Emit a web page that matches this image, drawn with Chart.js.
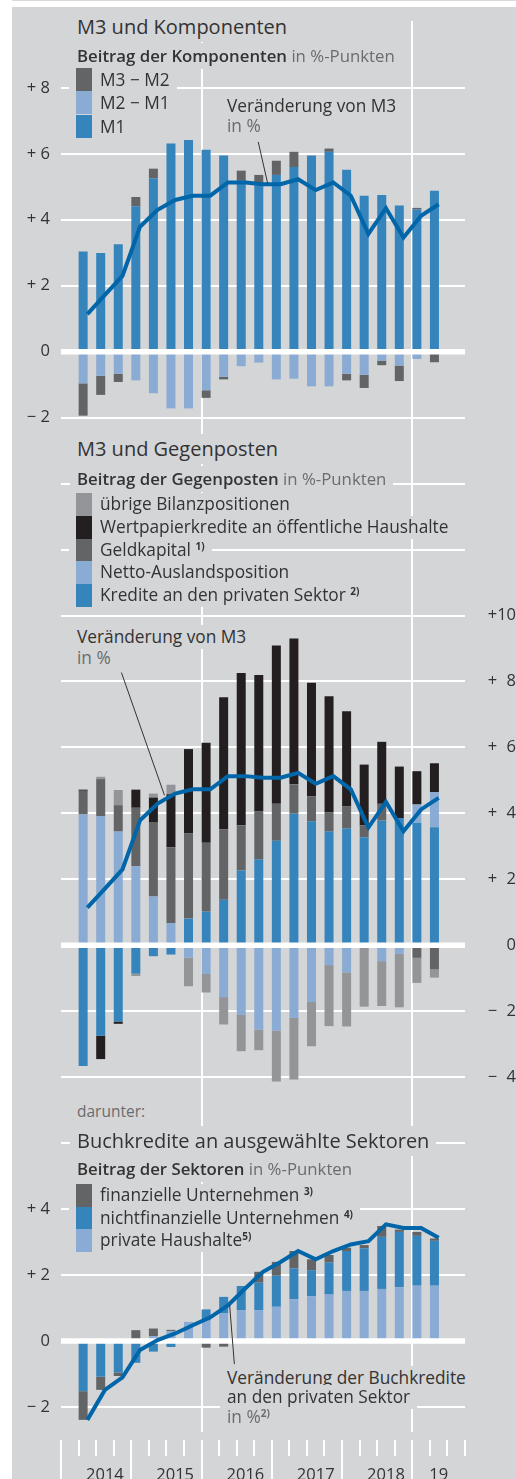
<!DOCTYPE html>
<html lang="de">
<head>
<meta charset="utf-8">
<title>M3 und Komponenten</title>
<script src="https://cdn.jsdelivr.net/npm/chart.js@4.4.1/dist/chart.umd.min.js"></script>
<style>
  html, body { margin: 0; padding: 0; background: #fff; }
  #page { position: relative; width: 516px; height: 1479px; overflow: hidden; font-family: 'Open Sans', sans-serif; color: #333; }
  #panel { position: absolute; left: 12px; top: 7px; width: 504px; height: 1472px; background: #d4d5d7; }
  #rule { position: absolute; left: 12px; top: 0; width: 504px; height: 1px; background: #d9dadc; }
  #chart { position: absolute; left: 0; top: 0; }
  /* text sits on a knock-out box in the panel colour, like the print original */
  .t { position: absolute; white-space: nowrap; background: #d4d5d7; padding: 2px 7px; margin: -2px 0 0 -7px; font-size: 17.3px; line-height: 20px; }
  .title { font-size: 20px; line-height: 26px; }
  .sub { font-size: 16.8px; line-height: 22px; }
  .sub b { font-weight: 600; }
  .small { font-size: 15.5px; }
  .g { color: #6b6c6e; }
  .leg { position: absolute; left: 69px; white-space: nowrap; background: #d4d5d7; padding: 0 7px 0 31px; font-size: 17.3px; }
  .leg i { position: absolute; left: 7px; top: 0; width: 16px; height: 100%; }
  sup { font-size: 10px; font-weight: 700; line-height: 0; vertical-align: 6px; }
</style>
</head>
<body>
<div id="page">
  <div id="rule"></div>
  <div id="panel"></div>
  <canvas id="chart" width="516" height="1479"></canvas>

  <!-- M3 und Komponenten -->
  <div class="t title" style="left:77px;top:13.5px">M3 und Komponenten</div>
  <div class="t sub" style="left:77px;top:45px"><b>Beitrag der Komponenten</b> <span class="g">in %-Punkten</span></div>
  <div class="leg" style="top:68.3px;height:23.1px;line-height:23.1px"><i style="background:#636466"></i>M3 − M2</div>
  <div class="leg" style="top:91.4px;height:23.1px;line-height:23.1px"><i style="background:#8aabd3"></i>M2 − M1</div>
  <div class="leg" style="top:114.5px;height:23.1px;line-height:23.1px"><i style="background:#3584bc"></i>M1</div>
  <div class="t" style="left:227px;top:96px">Veränderung von M3</div>
  <div class="t g" style="left:227px;top:116px">in %</div>

  <!-- M3 und Gegenposten -->
  <div class="t title" style="left:77px;top:436px">M3 und Gegenposten</div>
  <div class="t sub" style="left:77px;top:467.6px"><b>Beitrag der Gegenposten</b> <span class="g">in %-Punkten</span></div>
  <div class="leg" style="top:493.3px;height:22.7px;line-height:22.7px"><i style="background:#939598"></i>übrige Bilanzpositionen</div>
  <div class="leg" style="top:516px;height:22.7px;line-height:22.7px"><i style="background:#231f20"></i>Wertpapierkredite an öffentliche Haushalte</div>
  <div class="leg" style="top:538.7px;height:22.7px;line-height:22.7px"><i style="background:#636466"></i>Geldkapital <sup>1)</sup></div>
  <div class="leg" style="top:561.3px;height:22.7px;line-height:22.7px"><i style="background:#8aabd3"></i>Netto-Auslandsposition</div>
  <div class="leg" style="top:584px;height:22.7px;line-height:22.7px"><i style="background:#3584bc"></i>Kredite an den privaten Sektor <sup>2)</sup></div>
  <div class="t" style="left:77px;top:627.3px">Veränderung von M3</div>
  <div class="t g" style="left:77px;top:648.3px">in %</div>

  <!-- Buchkredite -->
  <div class="t small g" style="left:77px;top:1101.3px">darunter:</div>
  <div class="t title" style="left:77px;top:1127.5px">Buchkredite an ausgewählte Sektoren</div>
  <div class="t sub" style="left:77px;top:1158.3px"><b>Beitrag der Sektoren</b> <span class="g">in %-Punkten</span></div>
  <div class="leg" style="top:1184px;height:22.6px;line-height:22.6px"><i style="background:#636466"></i>finanzielle Unternehmen <sup>3)</sup></div>
  <div class="leg" style="top:1206.6px;height:22.6px;line-height:22.6px"><i style="background:#3584bc"></i>nichtfinanzielle Unternehmen <sup>4)</sup></div>
  <div class="leg" style="top:1229.2px;height:22.6px;line-height:22.6px"><i style="background:#8aabd3"></i>private Haushalte<sup>5)</sup></div>
  <div class="t" style="left:227px;top:1367.6px">Veränderung der Buchkredite</div>
  <div class="t" style="left:227px;top:1386.6px">an den privaten Sektor</div>
  <div class="t g" style="left:227px;top:1406.6px">in %<sup>2)</sup></div>
</div>

<script>
// quarters 2014 Q1 .. 2019 Q1 (21 values each)
const years = ['2014', '2015', '2016', '2017', '2018', '19'];

// M3 und Komponenten, Beitrag in %-Punkten
const m1   = [3.04, 2.99, 3.26, 4.41, 5.26, 6.31, 6.42, 6.12, 5.95, 5.18, 5.10, 5.36, 5.60, 5.95, 6.06, 5.52, 4.73, 4.75, 4.43, 4.31, 4.88];
const m2m1 = [-0.96, -0.73, -0.67, -0.87, -1.26, -1.72, -1.72, -1.17, -0.76, -0.44, -0.33, -0.84, -0.82, -1.05, -1.05, -0.67, -0.70, -0.27, -0.42, -0.22, 0];
const m3m2 = [-0.98, -0.58, -0.25, 0.28, 0.29, 0, 0, -0.23, -0.08, 0.31, 0.26, 0.43, 0.46, 0, 0.10, -0.20, -0.40, -0.14, -0.47, 0.05, -0.32];
// Veränderung von M3 in %
const m3Growth = [1.14, 1.72, 2.30, 3.79, 4.30, 4.60, 4.73, 4.73, 5.13, 5.13, 5.08, 5.08, 5.23, 4.90, 5.13, 4.73, 3.57, 4.35, 3.46, 4.12, 4.47];

// M3 und Gegenposten
const privateCredit  = [-3.66, -2.74, -2.31, -0.86, -0.33, -0.28, 0.81, 1.02, 1.38, 2.27, 2.60, 3.17, 3.99, 3.76, 3.45, 3.54, 3.28, 3.78, 3.86, 3.71, 3.58];
const netForeign     = [3.97, 3.92, 3.45, 2.40, 1.48, 0.67, -0.37, -0.87, -1.57, -2.11, -2.55, -2.58, -2.20, -1.72, -0.60, -0.82, 0, -0.48, -0.26, 0.56, 1.06];
const longTermLiab   = [0.69, 1.12, 0.80, 1.77, 2.24, 2.30, 2.58, 2.09, 2.14, 1.37, 1.47, 1.12, 0.89, 0.76, 0.58, 0.67, 0.36, 0.51, 0, -0.38, -0.73];
const govSecurities  = [0.04, -0.71, -0.07, 0.55, 0.76, 1.61, 2.56, 3.03, 4.00, 4.62, 4.13, 4.80, 4.42, 3.44, 3.52, 2.89, 1.84, 1.88, 1.56, 1.01, 0.88];
const otherItems     = [0.04, 0.07, 0.46, -0.07, 0.12, 0.29, -0.87, -0.56, -0.83, -1.10, -0.63, -1.55, -1.87, -1.34, -1.85, -1.64, -1.86, -1.36, -1.62, -0.76, -0.25];

// Buchkredite an ausgewählte Sektoren
const households   = [0, 0, 0, 0, 0.15, 0.30, 0.58, 0.62, 0.84, 0.94, 0.94, 1.04, 1.27, 1.36, 1.41, 1.52, 1.52, 1.58, 1.63, 1.68, 1.68];
const nonFinCorps  = [-1.52, -1.08, -0.95, -0.66, -0.32, -0.18, 0, 0.34, 0.50, 0.73, 0.83, 0.94, 0.93, 0.79, 0.97, 1.21, 1.29, 1.58, 1.68, 1.51, 1.36];
const finCorps     = [-0.87, -0.40, -0.11, 0.33, 0.23, 0.04, -0.05, -0.20, -0.17, 0, 0.33, 0.42, 0.53, 0.33, 0.23, 0.10, 0.10, 0.33, 0.07, 0.12, 0.07];
const loanGrowth   = [-2.39, -1.48, -1.10, -0.27, 0.03, 0.23, 0.48, 0.72, 1.08, 1.60, 2.10, 2.40, 2.73, 2.48, 2.73, 2.93, 3.03, 3.54, 3.43, 3.43, 3.13];

// tick values per panel
const ticksM3 = [-2, 0, 2, 4, 6, 8];
const ticksCounterparts = [-4, -2, 0, 2, 4, 6, 8, 10, 12, 14];
const ticksLoans = [-2, 0, 2, 4, 6];

const BLUE = '#3584bc', LIGHT = '#8aabd3', DARK = '#636466', BLACK = '#231f20', GREY = '#939598', LINE = '#0066a9';
const TXT = '#333333';
const FONT = "'Open Sans', 'DejaVu Sans', sans-serif";

// layout: one chart area, three panels stacked in it, 33 px per percentage point
const PX = 33, AREA_TOP = 20, AREA_BOTTOM = 1432, AXIS_H = 1479 - AREA_BOTTOM;
const ZERO = {y1: 351, y2: 945, y3: 1341};
const NQ = 22;            // quarters on the axis, 2014 Q1 .. 2019 Q2
const BAR_OFFSET = 0.76;  // bars sit in the back half of their quarter, line points at quarter end

const rangeOf = id => ({min: (ZERO[id] - AREA_BOTTOM) / PX, max: (ZERO[id] - AREA_TOP) / PX});
const xy = (values, shift) => values.map((v, i) => ({x: i + shift, y: v}));

function barSet(label, values, color, axis) {
  return {type: 'bar', label, data: xy(values, BAR_OFFSET), backgroundColor: color, yAxisID: axis,
          grouped: false, maxBarThickness: 9, borderWidth: 0, order: 1};
}
function lineSet(label, values, axis) {
  return {type: 'line', label, data: xy(values, 1), borderColor: LINE, borderWidth: 4, pointRadius: 0,
          tension: 0, fill: false, yAxisID: axis, order: 0};
}

const signed = v => v > 0 ? '+ ' + v : v < 0 ? '\u2212 ' + (-v) : '0';
const signedRight = v => v >= 10 ? '+' + v : v > 0 ? '+\u2007' + v : v < 0 ? '\u2212\u2007' + (-v) : '0';
const loanLabel = v => v === 6 ? '' : signed(v);

const yearCenters = years.map((y, k) => (4 * k + Math.min(4 * k + 4, NQ)) / 2);

function yAxis(id, position, values, label, width, showLabels) {
  const r = rangeOf(id);
  return {
    type: 'linear', position, min: r.min, max: r.max, stacked: true,
    afterBuildTicks: axis => { axis.ticks = values.map(v => ({value: v})); },
    afterFit: axis => { axis.width = width; },
    border: {display: false},
    grid: {color: '#ffffff', lineWidth: 2, drawTicks: false},
    ticks: {display: showLabels, callback: label, color: TXT, padding: 11,
            crossAlign: position === 'right' ? 'far' : 'near', font: {size: 16.5}}
  };
}

// leader lines from the annotations to the M3 / loan lines (in axis units)
const leaders = [
  {axis: 'y1', from: [10.73, 6.36], to: [11.27, 5.09]},
  {axis: 'y2', from: [2.94, 8.27], to: [5.39, 4.55]},
  {axis: 'y3', from: [9.37, -0.70], to: [9.10, 1.09]}
];

const overlay = {
  id: 'overlay',
  beforeDatasetsDraw(chart) { chart.$zeroDone = false; },
  beforeDatasetDraw(chart, args) {
    // thick white zero lines go over the bars but under the lines
    if (chart.$zeroDone || args.meta.type !== 'line') return;
    chart.$zeroDone = true;
    const {ctx, chartArea} = chart;
    ctx.save();
    ctx.strokeStyle = '#ffffff';
    ctx.lineWidth = 5.5;
    ['y1', 'y2', 'y3'].forEach(id => {
      const y = chart.scales[id].getPixelForValue(0);
      ctx.beginPath(); ctx.moveTo(chartArea.left, y); ctx.lineTo(chartArea.right, y); ctx.stroke();
    });
    ctx.restore();
  },
  afterDatasetsDraw(chart) {
    const {ctx} = chart, x = chart.scales.x;
    ctx.save();
    ctx.strokeStyle = '#333333';
    ctx.lineWidth = 1;
    leaders.forEach(l => {
      const y = chart.scales[l.axis];
      ctx.beginPath();
      ctx.moveTo(x.getPixelForValue(l.from[0]), y.getPixelForValue(l.from[1]));
      ctx.lineTo(x.getPixelForValue(l.to[0]), y.getPixelForValue(l.to[1]));
      ctx.stroke();
    });
    ctx.restore();
  },
  afterDraw(chart) {
    // the lower panel shares the left margin with the top panel, so its labels are drawn here
    const {ctx, chartArea} = chart, s = chart.scales.y3;
    ctx.save();
    ctx.font = '16.5px ' + FONT;
    ctx.fillStyle = TXT;
    ctx.textAlign = 'right';
    ctx.textBaseline = 'middle';
    s.ticks.forEach(t => {
      const text = loanLabel(t.value);
      if (text) ctx.fillText(text, chartArea.left - 11, s.getPixelForValue(t.value));
    });
    ctx.restore();
  }
};

Chart.defaults.font.family = FONT;
Chart.defaults.color = TXT;

new Chart(document.getElementById('chart'), {
  type: 'bar',
  data: {
    datasets: [
      lineSet('Veränderung von M3', m3Growth, 'y1'),
      barSet('M1', m1, BLUE, 'y1'),
      barSet('M2 − M1', m2m1, LIGHT, 'y1'),
      barSet('M3 − M2', m3m2, DARK, 'y1'),

      lineSet('Veränderung von M3', m3Growth, 'y2'),
      barSet('Kredite an den privaten Sektor', privateCredit, BLUE, 'y2'),
      barSet('Netto-Auslandsposition', netForeign, LIGHT, 'y2'),
      barSet('Geldkapital', longTermLiab, DARK, 'y2'),
      barSet('Wertpapierkredite an öffentliche Haushalte', govSecurities, BLACK, 'y2'),
      barSet('übrige Bilanzpositionen', otherItems, GREY, 'y2'),

      lineSet('Veränderung der Buchkredite', loanGrowth, 'y3'),
      barSet('private Haushalte', households, LIGHT, 'y3'),
      barSet('nichtfinanzielle Unternehmen', nonFinCorps, BLUE, 'y3'),
      barSet('finanzielle Unternehmen', finCorps, DARK, 'y3')
    ]
  },
  options: {
    responsive: false,
    devicePixelRatio: 1,
    animation: false,
    events: [],
    layout: {padding: {top: AREA_TOP, left: 0, right: 0, bottom: 0}},
    plugins: {legend: {display: false}, tooltip: {enabled: false}},
    scales: {
      x: {
        type: 'linear', min: 0, max: NQ, position: 'bottom',
        afterBuildTicks: axis => { axis.ticks = Array.from({length: NQ + 1}, (_, i) => ({value: i})); },
        afterFit: axis => { axis.height = AXIS_H; },
        border: {display: false},
        grid: {
          color: c => (c.tick && (c.tick.value === 8 || c.tick.value === 20)) ? '#ffffff' : 'rgba(0,0,0,0)',
          lineWidth: 2, drawTicks: true, tickLength: AXIS_H, tickColor: '#ffffff', tickWidth: 2,
          // year boundaries run to the bottom edge, quarter ticks are short
          tickBorderDash: c => (c.tick && c.tick.value % 4 === 0 && c.tick.value < NQ) ? [0, 8, 100] : [0, 8, 16, 100]
        },
        ticks: {
          autoSkip: false, maxRotation: 0, padding: -14, color: TXT, font: {size: 16.5},
          callback: v => { const k = yearCenters.indexOf(v); return k < 0 ? '' : years[k]; }
        }
      },
      y3: yAxis('y3', 'left', ticksLoans, loanLabel, 0, false),
      y1: yAxis('y1', 'left', ticksM3, signed, 61, true),
      y2: yAxis('y2', 'right', ticksCounterparts, v => v > 10 ? '' : signedRight(v), 516 - 465, true)
    }
  },
  plugins: [overlay]
});
</script>
</body>
</html>
